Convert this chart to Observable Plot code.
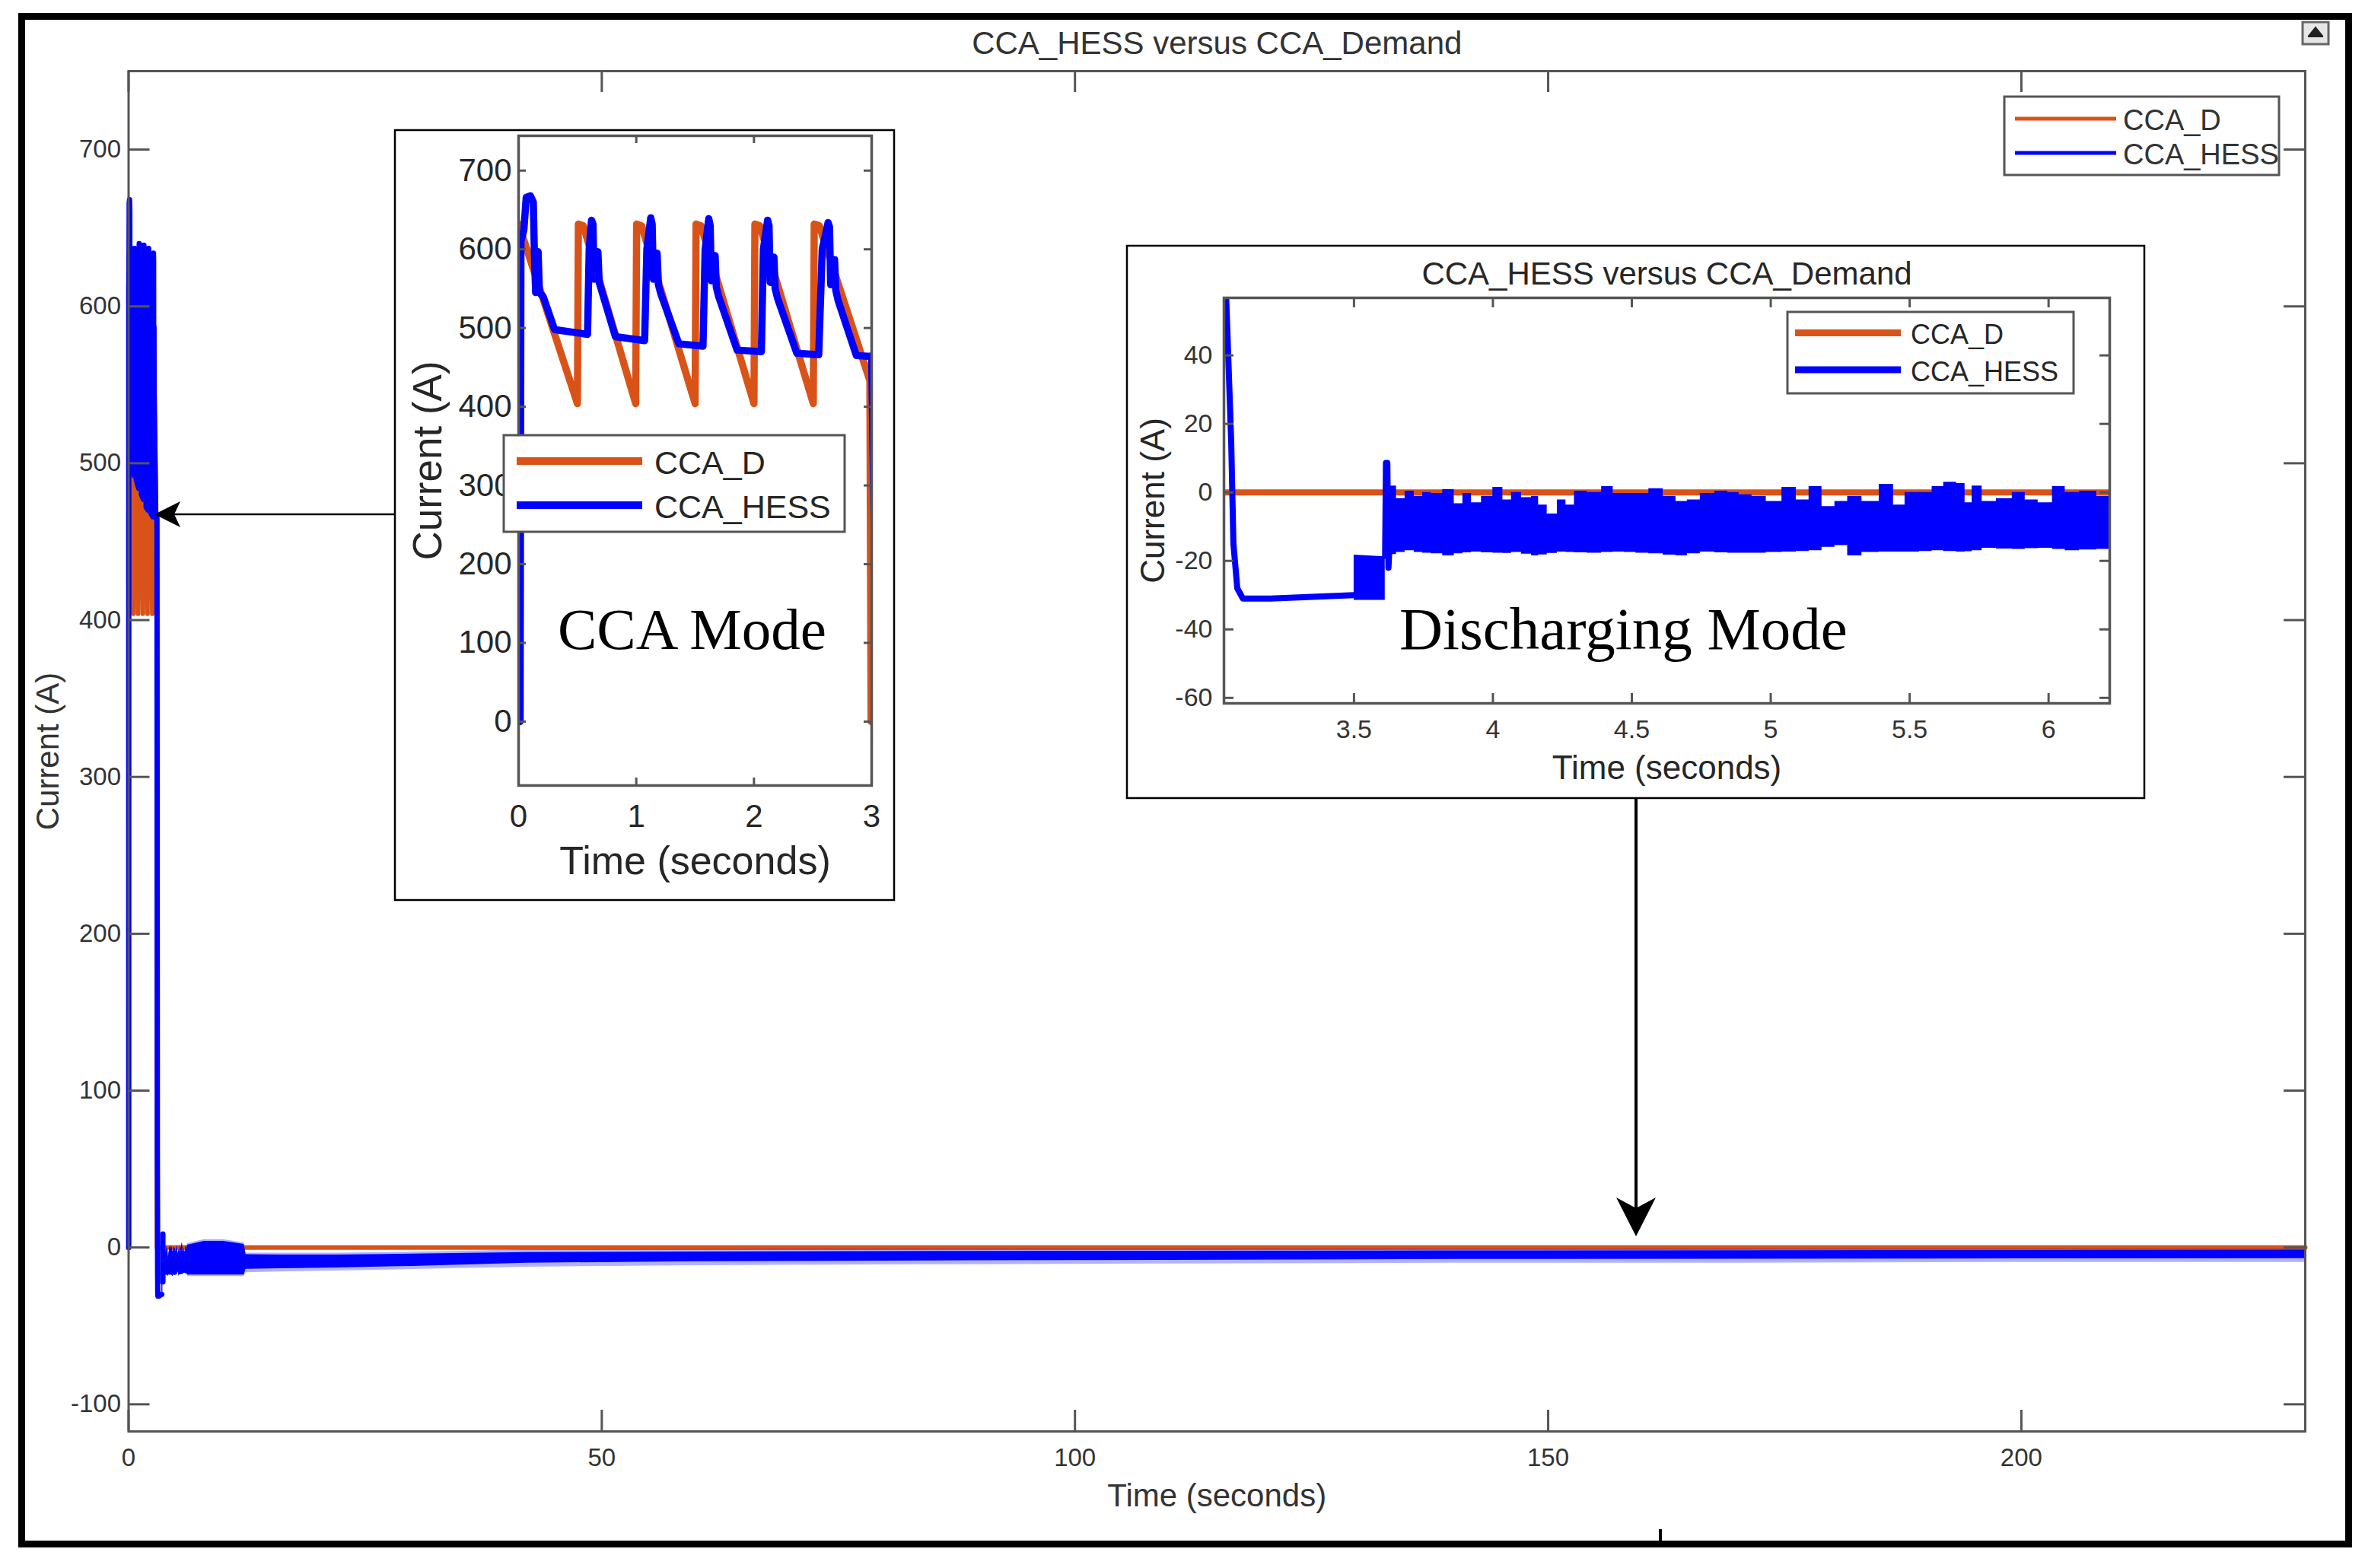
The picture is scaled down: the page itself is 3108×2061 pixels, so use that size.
<!DOCTYPE html>
<html><head><meta charset="utf-8">
<script src="https://cdn.jsdelivr.net/npm/d3@7"></script>
<script src="https://cdn.jsdelivr.net/npm/@observablehq/plot@0.6"></script>
<style>
html,body{margin:0;padding:0;background:#fff;}
#wrap{position:relative;width:3108px;height:2061px;overflow:hidden;background:#fff;}
#wrap > svg{position:absolute;}
</style></head><body><div id="wrap"></div>
<script>
// ---------------- DATA ----------------
// CCA mode (0 – 3 s): demand current CCA_D
const demT = [0, 0.50, 0.508, 0.55, 0.995, 1.003, 1.045, 1.50, 1.508, 1.55, 2.0, 2.008, 2.05, 2.504, 2.512, 2.555, 2.985, 2.995];
const demV = [632, 404, 632, 630, 404, 632, 630, 404, 632, 630, 404, 632, 630, 404, 632, 630, 433, 0];
// demand after CCA mode
const steadyT = [2.995, 230];
const steadyV = [0, 0];
// CCA mode (0 – 3 s): HESS current CCA_HESS
const hessT = [0, 0.013, 0.02, 0.045, 0.065, 0.10, 0.125, 0.134, 0.145, 0.155, 0.166, 0.177, 0.209, 0.306, 0.586,
  0.60, 0.62, 0.632, 0.642, 0.655, 0.674, 0.685, 0.707, 0.823, 1.071,
  1.09, 1.123, 1.135, 1.145, 1.158, 1.177, 1.188, 1.21, 1.362, 1.567,
  1.585, 1.616, 1.628, 1.638, 1.65, 1.67, 1.68, 1.70, 1.857, 2.063,
  2.08, 2.116, 2.128, 2.138, 2.15, 2.17, 2.18, 2.20, 2.364, 2.55,
  2.58, 2.63, 2.642, 2.652, 2.665, 2.685, 2.695, 2.715, 2.87, 3.0];
const hessV = [0, 0, 610, 625, 666, 668, 660, 597, 545, 595, 597, 545, 540, 498, 492,
  600, 637, 632, 562, 590, 597, 558, 547, 489, 484,
  600, 640, 632, 562, 590, 595, 555, 543, 480, 477,
  600, 639, 630, 560, 588, 592, 552, 540, 472, 470,
  600, 637, 630, 558, 586, 590, 550, 538, 468, 466,
  600, 634, 628, 555, 583, 587, 548, 535, 465, 464];
// transition into discharging mode
const dischT = [3.0, 3.04, 3.058, 3.066, 3.08, 3.10, 3.2, 3.35, 3.5];
const dischV = [465, 57, 15, -15, -28, -31, -31, -30.5, -30];
const blockT = [3.5, 3.612];
const blockLo = [-31.5, -31.5];
const blockHi = [-18.3, -18.8];
const spikeT = [3.612, 3.615, 3.62, 3.624, 3.627];
const spikeV = [-18.5, 8.6, 8.6, -22, -17];
// discharging mode noisy band (envelope) 3.6 – 6.2 s
const bandT = [3.624, 3.639, 3.666, 3.701, 3.732, 3.762, 3.793, 3.845, 3.876, 3.907, 3.938, 3.979, 4.020, 4.051, 4.082, 4.123,
  4.154, 4.174, 4.216, 4.247, 4.278, 4.308, 4.370, 4.412, 4.453, 4.494, 4.535, 4.587, 4.638, 4.679, 4.720, 4.772,
  4.824, 4.865, 4.906, 4.958, 5.009, 5.071, 5.112, 5.163, 5.205, 5.256, 5.297, 5.359, 5.421, 5.462, 5.504, 5.565,
  5.596, 5.648, 5.689, 5.709, 5.740, 5.781, 5.843, 5.895, 5.936, 5.988, 6.039, 6.080, 6.142, 6.204, 6.235];
const bandHi = [1.0, 1.9, -1.8, 0.4, -1.1, 0.0, -0.3, 0.8, -3.3, -0.3, -3.0, -1.1, 1.5, -2.2, 0.0, -1.5,
  -1.1, -3.7, -6.3, -2.2, -3.7, 0.4, 0.0, 1.7, -0.3, -0.3, -0.3, 1.1, -1.1, -2.6, -2.2, -0.3,
  0.4, 0.0, -0.7, -1.1, -2.6, 1.5, -2.2, 1.7, -4.1, -2.6, -1.1, -2.6, 2.4, -3.7, 0.0, 0.0,
  1.7, 3.0, 2.6, -3.0, 1.9, -2.6, -1.8, 0.0, -2.2, -3.0, 1.7, 0.0, 0.4, -1.1, -0.3];
const bandLo = [-22, -18.1, -17.5, -17.0, -17.5, -17.7, -17.9, -18.5, -17.9, -17.6, -17.4, -17.6, -17.7, -17.8, -17.5, -18.0,
  -18.5, -18.2, -17.8, -17.4, -17.5, -17.6, -17.7, -17.5, -17.4, -17.5, -17.7, -17.9, -18.3, -18.5, -17.9, -17.4,
  -17.6, -17.7, -17.7, -17.7, -17.5, -17.4, -17.2, -17.0, -16.0, -15.5, -18.5, -17.5, -17.4, -17.4, -17.4, -17.2,
  -17.0, -17.2, -17.4, -17.3, -17.0, -16.3, -16.5, -16.6, -16.4, -16.3, -16.6, -17.0, -16.8, -16.6, -16.6];
// long run (main chart) envelope after 6.2 s
const longT   = [6.2, 8, 10, 12.2, 12.4, 16, 22, 30, 42, 60, 85, 110, 140, 170, 200, 230];
const longHi  = [1.5, 4, 4, 2, -4.5, -4.8, -4.8, -4.2, -3.2, -2.8, -2.5, -2.3, -2.1, -2, -1.8, -1.6];
const longLo  = [-17.5, -17.5, -17.5, -17.5, -13.8, -13.5, -13, -12, -10, -9, -8.5, -8.1, -7.6, -7.4, -7.2, -7.1];
const longFHi = [2.5, 5, 5, 3, -3.5, -3.5, -3.5, -3, -1.5, -1.2, -1, -1, -1, -1, -1, -1];
const longFLo = [-18.5, -18.5, -18.5, -18.5, -16, -15.5, -15, -14, -12.5, -11.5, -11, -10.5, -10, -10, -9.5, -9.5];
// ticks and labels
const mainXTicks = [0, 50, 100, 150, 200];
const mainYTicks = [-100, 0, 100, 200, 300, 400, 500, 600, 700];
const in1XTicks = [0, 1, 2, 3];
const in1YTicks = [0, 100, 200, 300, 400, 500, 600, 700];
const in2XTicks = [3.5, 4, 4.5, 5, 5.5, 6];
const in2YTicks = [-60, -40, -20, 0, 20, 40];
const seriesNames = ["CCA_D", "CCA_HESS"];
const titleText = "CCA_HESS versus CCA_Demand";
const xLabel = "Time (seconds)";
const yLabel = "Current (A)";
const modeLabels = ["CCA Mode", "Discharging Mode"];

// ---------------- HELPERS ----------------
const ORANGE = "#D95319", BLUE = "#0000FF", AX = "#555555", TXT = "#333333";
const SANS = "'Liberation Sans', Arial, Helvetica, sans-serif";
const SERIF = "'Liberation Serif', 'Times New Roman', serif";
const rows = (T, V) => T.map((t, i) => ({t, v: V[i]}));
const rows3 = (T, L, Hh) => T.map((t, i) => ({t, lo: L[i], hi: Hh[i]}));
const fmt = d => String(d);
const W = 3108, H = 2061;
const wrap = document.getElementById("wrap");
const C = {textAnchor: "middle", lineAnchor: "middle"};

function inwardTicks(xt, yt, pw, ph, len, sw) {
  return [
    Plot.tickY(yt, {y: d => d, insetRight: pw - len, stroke: AX, strokeWidth: sw}),
    Plot.tickY(yt, {y: d => d, insetLeft: pw - len, stroke: AX, strokeWidth: sw}),
    Plot.tickX(xt, {x: d => d, insetTop: ph - len, stroke: AX, strokeWidth: sw}),
    Plot.tickX(xt, {x: d => d, insetBottom: ph - len, stroke: AX, strokeWidth: sw})
  ];
}
function place(el, left, top) {
  el.style.position = "absolute";
  el.style.left = left + "px";
  el.style.top = top + "px";
  el.style.maxWidth = "none";
  wrap.appendChild(el);
}

// ---------------- MAIN CHART ----------------
const mM = {left: 168.5, right: 79, top: 93, bottom: 180};
const mPW = W - mM.left - mM.right, mPH = H - mM.top - mM.bottom;
const mainBlue = rows(hessT.concat(dischT), hessV.concat(dischV));
const mainOrange = rows(demT.concat(steadyT), demV.concat(steadyV));
const mainPlot = Plot.plot({
  width: W, height: H,
  marginLeft: mM.left, marginRight: mM.right, marginTop: mM.top, marginBottom: mM.bottom,
  x: {domain: [0, 230], ticks: mainXTicks, tickSize: 0, tickPadding: 22, tickFormat: fmt, label: null},
  y: {domain: [-117.3, 750], ticks: mainYTicks, tickSize: 0, tickPadding: 10, tickFormat: fmt, label: null},
  style: {background: "white", fontFamily: SANS, fontSize: "33px", color: TXT, overflow: "visible"},
  marks: [
    Plot.line(mainOrange, {x: "t", y: "v", stroke: ORANGE, strokeWidth: 6}),
    Plot.areaY(rows3(longT, longFLo, longFHi), {x: "t", y1: "lo", y2: "hi", fill: BLUE, fillOpacity: 0.3}),
    Plot.areaY(rows3(longT, longLo, longHi), {x: "t", y1: "lo", y2: "hi", fill: BLUE}),
    Plot.areaY(rows3(bandT, bandLo, bandHi), {x: "t", y1: "lo", y2: "hi", fill: BLUE}),
    Plot.areaY(rows3(blockT, blockLo, blockHi), {x: "t", y1: "lo", y2: "hi", fill: BLUE}),
    Plot.line(mainBlue, {x: "t", y: "v", stroke: BLUE, strokeWidth: 7}),
    Plot.line(rows(spikeT, spikeV), {x: "t", y: "v", stroke: BLUE, strokeWidth: 7}),
    ...inwardTicks(mainXTicks, mainYTicks, mPW, mPH, 28, 3),
    Plot.frame({stroke: AX, strokeWidth: 3}),
    Plot.text([titleText], {text: d => d, frameAnchor: "top", dy: -36, fontSize: 42, fill: TXT, ...C}),
    Plot.text([xLabel], {text: d => d, frameAnchor: "bottom", dy: 85, fontSize: 42, fill: TXT, ...C}),
    Plot.text([yLabel], {text: d => d, frameAnchor: "left", dx: -105, rotate: -90, fontSize: 42, fill: TXT, ...C})
  ]
});
place(mainPlot, 0, 0);

// ---------------- INSET 1 (CCA mode) ----------------
const i1 = {x: 519, y: 171, w: 656, h: 1012, left: 162, right: 30, top: 7, bottom: 151};
const i1PW = i1.w - i1.left - i1.right, i1PH = i1.h - i1.top - i1.bottom;
const inset1 = Plot.plot({
  width: i1.w, height: i1.h,
  marginLeft: i1.left, marginRight: i1.right, marginTop: i1.top, marginBottom: i1.bottom,
  x: {domain: [0, 3], ticks: in1XTicks, tickSize: 0, tickPadding: 25, tickFormat: fmt, label: null},
  y: {domain: [-81.2, 744.2], ticks: in1YTicks, tickSize: 0, tickPadding: 9, tickFormat: fmt, label: null},
  style: {background: "white", fontFamily: SANS, fontSize: "42px", color: "#262626", overflow: "hidden"},
  marks: [
    Plot.line(rows(demT.concat(steadyT), demV.concat(steadyV)), {x: "t", y: "v", stroke: ORANGE, strokeWidth: 9.5, clip: true}),
    Plot.line(rows(hessT.concat(dischT), hessV.concat(dischV)), {x: "t", y: "v", stroke: BLUE, strokeWidth: 9.5, clip: true}),
    ...inwardTicks(in1XTicks, in1YTicks, i1PW, i1PH, 10, 3),
    Plot.frame({stroke: AX, strokeWidth: 3.5}),
    Plot.text([xLabel], {text: d => d, frameAnchor: "bottom", dy: 100, fontSize: 52, fill: "#262626", ...C}),
    Plot.text([yLabel], {text: d => d, frameAnchor: "left", dx: -118, rotate: -90, fontSize: 53, fill: "#262626", ...C})
  ]
});
place(inset1, i1.x, i1.y);

// ---------------- INSET 2 (Discharging mode) ----------------
const i2 = {x: 1481, y: 323, w: 1337, h: 726, left: 127, right: 46, top: 68, bottom: 125};
const i2PW = i2.w - i2.left - i2.right, i2PH = i2.h - i2.top - i2.bottom;
const inset2 = Plot.plot({
  width: i2.w, height: i2.h,
  marginLeft: i2.left, marginRight: i2.right, marginTop: i2.top, marginBottom: i2.bottom,
  x: {domain: [3.032, 6.22], ticks: in2XTicks, tickSize: 0, tickPadding: 21, tickFormat: fmt, label: null},
  y: {domain: [-61.6, 56.8], ticks: in2YTicks, tickSize: 0, tickPadding: 15, tickFormat: fmt, label: null},
  style: {background: "white", fontFamily: SANS, fontSize: "34px", color: TXT, overflow: "hidden"},
  marks: [
    Plot.line(rows(steadyT, steadyV), {x: "t", y: "v", stroke: ORANGE, strokeWidth: 8, clip: true}),
    Plot.areaY(rows3(bandT, bandLo, bandHi), {x: "t", y1: "lo", y2: "hi", fill: BLUE, curve: "step", clip: true}),
    Plot.areaY(rows3(blockT, blockLo, blockHi), {x: "t", y1: "lo", y2: "hi", fill: BLUE, clip: true}),
    Plot.line(rows(dischT, dischV), {x: "t", y: "v", stroke: BLUE, strokeWidth: 8, clip: true}),
    Plot.line(rows(spikeT, spikeV), {x: "t", y: "v", stroke: BLUE, strokeWidth: 8, clip: true}),
    ...inwardTicks(in2XTicks, in2YTicks, i2PW, i2PH, 13, 3),
    Plot.frame({stroke: AX, strokeWidth: 3.5}),
    Plot.text([titleText], {text: d => d, frameAnchor: "top", dy: -31, fontSize: 42, fill: "#262626", ...C}),
    Plot.text([xLabel], {text: d => d, frameAnchor: "bottom", dy: 85, fontSize: 44, fill: "#262626", ...C}),
    Plot.text([yLabel], {text: d => d, frameAnchor: "left", dx: -93, rotate: -90, fontSize: 44, fill: "#262626", ...C})
  ]
});
place(inset2, i2.x, i2.y);

// ---------------- OVERLAY: frames, legends, arrows, notes ----------------
const ov = d3.select(wrap).append("svg")
  .attr("width", W).attr("height", H)
  .style("left", "0px").style("top", "0px").style("pointer-events", "none");

// inset frames
ov.append("rect").attr("x", i1.x).attr("y", i1.y).attr("width", i1.w).attr("height", i1.h)
  .attr("fill", "none").attr("stroke", "#000").attr("stroke-width", 2.5);
ov.append("rect").attr("x", i2.x).attr("y", i2.y).attr("width", i2.w).attr("height", i2.h)
  .attr("fill", "none").attr("stroke", "#000").attr("stroke-width", 2.5);

function legend(box, lineYs, x1, x2, sw, tx, fs, color) {
  ov.append("rect").attr("x", box[0]).attr("y", box[1]).attr("width", box[2]).attr("height", box[3])
    .attr("fill", "#fff").attr("stroke", "#555").attr("stroke-width", 3);
  [ORANGE, BLUE].forEach((c, i) => {
    ov.append("line").attr("x1", x1).attr("x2", x2).attr("y1", lineYs[i]).attr("y2", lineYs[i])
      .attr("stroke", c).attr("stroke-width", sw);
    ov.append("text").attr("x", tx).attr("y", lineYs[i] + 2).attr("dominant-baseline", "central")
      .attr("font-family", SANS).attr("font-size", fs).attr("fill", color).text(seriesNames[i]);
  });
}
legend([2634, 127, 361, 103], [156, 201], 2648, 2781, 5, 2790, 38, TXT);
legend([662, 572, 448, 127], [606, 664], 679, 844, 10, 860, 43, "#262626");
legend([2349, 410, 376, 107], [437.5, 486], 2359, 2498, 9, 2511, 36, "#262626");

// mode annotations
ov.append("text").attr("x", 733).attr("y", 853).attr("font-family", SERIF).attr("font-size", 77)
  .attr("fill", "#000").text(modeLabels[0]);
ov.append("text").attr("x", 1839).attr("y", 853).attr("font-family", SERIF).attr("font-size", 79)
  .attr("fill", "#000").text(modeLabels[1]);

// arrows
ov.append("line").attr("x1", i1.x).attr("x2", 228).attr("y1", 676).attr("y2", 676)
  .attr("stroke", "#000").attr("stroke-width", 2.5);
ov.append("path").attr("d", "M203,676 L237,659 L229,676 L237,693 Z").attr("fill", "#000");
ov.append("line").attr("x1", 2150).attr("x2", 2150).attr("y1", i2.y + i2.h).attr("y2", 1590)
  .attr("stroke", "#000").attr("stroke-width", 4);
ov.append("path").attr("d", "M2150,1625 L2124,1574 L2150,1588 L2176,1574 Z").attr("fill", "#000");

// outer frame and small details
ov.append("rect").attr("x", 28.5).attr("y", 21.5).attr("width", 3058).attr("height", 2008)
  .attr("fill", "none").attr("stroke", "#000").attr("stroke-width", 9);
ov.append("line").attr("x1", 2182).attr("x2", 2182).attr("y1", 2010).attr("y2", 2026)
  .attr("stroke", "#000").attr("stroke-width", 4);
ov.append("rect").attr("x", 3026).attr("y", 29).attr("width", 34).attr("height", 29)
  .attr("fill", "#e6e6e6").attr("stroke", "#666").attr("stroke-width", 3);
ov.append("path").attr("d", "M3035,46 L3043,36 L3051,46 Z M3033,48 L3053,48").attr("fill", "#222")
  .attr("stroke", "#222").attr("stroke-width", 2);
</script>
</body></html>
